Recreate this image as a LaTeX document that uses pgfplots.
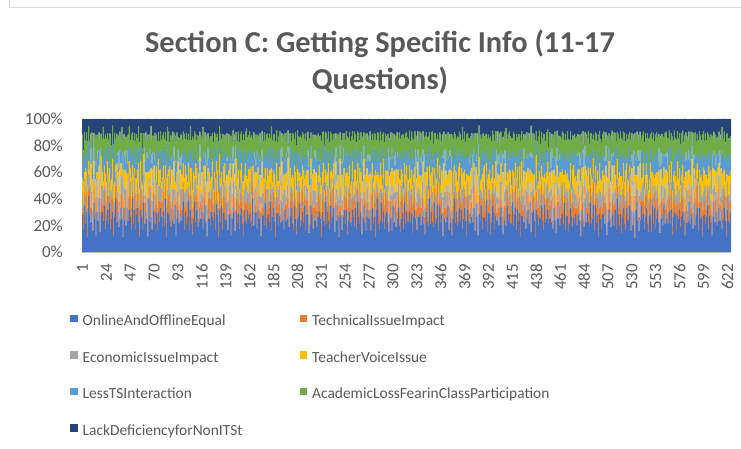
\documentclass[border=0pt]{standalone}
\usepackage{pgfplots}
\usepackage{pgfplotstable}
\pgfplotsset{compat=1.18}
\usepackage{fontspec}
\setmainfont{Carlito}
\definecolor{tgray}{HTML}{595959}
\definecolor{cA}{HTML}{4472C4}
\definecolor{cB}{HTML}{ED7D31}
\definecolor{cC}{HTML}{A5A5A5}
\definecolor{cD}{HTML}{FFC000}
\definecolor{cE}{HTML}{5B9BD5}
\definecolor{cF}{HTML}{70AD47}
\definecolor{cG}{HTML}{264478}
\pgfplotstableread{
a d b f c e g
5 2 1 3 2 3 2
3 3 2 2 1 2 4
7 1 2 4 2 2 2
4 4 1 2 3 2 3
6 2 3 3 1 3 2
2 3 2 4 2 2 3
8 2 1 2 2 3 1
5 1 3 3 2 1 3
4 3 2 2 3 2 2
6 2 2 4 1 3 2
3 4 1 3 2 2 4
7 2 2 2 2 2 2
5 3 2 3 1 3 3
2 2 3 4 2 2 2
6 1 2 3 3 2 3
4 3 1 2 2 3 2
8 2 2 3 1 2 2
3 2 3 4 2 3 3
5 4 2 2 2 1 2
6 2 1 3 3 2 3
4 1 2 4 2 3 1
7 3 2 2 1 2 3
3 2 3 3 2 2 2
5 3 1 4 2 3 3
6 2 2 2 3 2 2
4 3 2 3 2 2 3
7 2 1 2 2 3 2
3 1 2 4 3 2 2
5 2 3 3 1 2 4
6 4 2 2 2 3 1
2 2 2 3 2 2 3
5 3 1 4 1 3 2
8 1 2 2 2 2 3
4 2 3 3 3 1 2
6 3 2 2 1 3 3
3 2 1 4 2 2 2
5 4 2 3 2 3 2
7 2 2 2 3 2 3
4 1 3 3 2 2 1
2 3 2 4 1 3 3
6 2 1 3 2 2 2
5 3 2 2 3 3 3
3 2 2 3 2 1 2
7 1 3 4 1 2 3
4 3 1 2 2 3 2
6 2 2 3 3 2 1
5 2 3 2 2 2 3
3 4 2 3 1 3 2
8 2 1 3 2 2 2
4 3 2 4 2 1 3
6 1 2 2 3 3 2
3 2 3 3 2 2 3
5 3 1 4 1 2 2
7 2 2 2 2 3 3
4 4 2 3 2 2 1
2 2 1 3 3 3 3
6 3 3 2 1 2 2
5 1 2 4 2 3 2
3 2 2 3 2 2 4
7 3 1 2 3 1 2
4 2 3 3 1 3 3
6 2 2 4 2 2 2
5 4 1 2 2 3 3
2 3 2 3 3 2 2
8 1 2 3 1 2 3
4 2 3 2 2 3 2
5 3 2 4 2 2 1
3 2 1 3 3 3 3
6 1 2 2 1 2 2
7 3 3 3 2 2 3
4 2 2 4 2 3 2
5 2 1 2 3 2 2
3 3 2 3 1 3 3
6 4 2 3 2 1 2
4 2 3 2 2 2 3
7 2 1 3 3 3 2
5 1 2 4 2 2 3
3 3 2 2 1 3 2
6 2 3 3 2 2 2
4 3 1 4 3 2 3
8 2 2 2 1 3 2
2 4 2 3 2 2 3
5 2 1 3 2 3 1
6 1 3 4 3 2 2
4 3 2 2 2 1 3
3 2 2 3 1 3 2
7 3 1 3 2 2 3
5 2 3 4 2 3 2
4 4 2 2 3 2 2
6 1 1 3 1 2 3
2 2 2 3 2 3 2
5 3 2 4 2 2 2
7 2 3 2 3 2 3
3 1 1 3 1 3 2
6 3 2 3 2 2 3
4 2 2 4 2 1 2
5 2 1 2 3 3 3
8 3 2 3 1 2 2
3 2 3 3 2 3 2
6 4 1 2 2 2 3
4 2 2 4 3 2 2
5 1 2 3 2 3 3
7 3 1 2 1 2 2
3 2 3 3 2 3 3
6 2 2 4 2 2 1
4 4 1 2 3 2 3
2 2 2 3 1 3 2
5 3 2 3 2 2 3
8 1 1 4 2 3 2
4 2 3 2 3 2 2
6 3 2 3 1 1 3
3 2 1 3 2 3 2
5 4 2 4 2 2 3
7 2 3 2 3 2 2
4 1 2 3 1 3 2
6 3 1 3 2 2 3
3 2 2 4 2 3 1
5 2 3 2 3 2 3
7 3 2 3 1 2 2
4 2 1 3 2 3 3
2 3 2 4 2 2 2
6 1 2 2 3 3 2
5 3 3 3 1 2 3
3 2 1 3 2 2 2
7 2 2 4 2 3 3
5 3 2 2 3 2 2
4 2 1 3 1 3 3
6 1 3 4 2 2 2
3 3 2 3 2 3 2
8 2 2 2 3 2 3
5 4 1 3 1 2 2
2 2 2 4 2 3 3
6 3 3 2 2 2 1
4 1 2 3 3 3 2
7 2 1 3 2 2 3
3 3 2 4 1 3 2
5 2 2 2 2 2 2
6 4 3 3 3 2 3
4 2 1 3 2 3 2
7 1 2 4 1 2 2
3 3 2 2 2 3 3
5 2 1 3 3 2 2
6 3 3 3 2 1 3
2 2 2 4 1 3 2
4 2 1 2 2 2 3
8 3 2 3 3 3 2
5 1 2 3 2 2 2
3 2 3 4 1 3 3
6 4 2 2 2 2 2
4 2 1 3 3 2 3
6 3 2 3 2 3 2
3 2 2 4 1 2 3
5 1 3 2 2 3 2
7 3 1 3 3 2 2
4 2 2 3 2 3 3
2 4 2 4 1 2 2
6 2 1 2 2 3 3
5 3 3 3 3 2 2
3 1 2 3 2 2 1
7 2 2 4 1 3 3
4 3 1 2 2 2 2
6 2 2 3 3 3 2
5 4 3 3 2 2 3
3 2 1 4 1 3 2
8 1 2 2 2 2 3
4 3 2 3 3 3 2
5 2 1 3 2 2 2
6 2 3 4 1 1 3
3 3 2 2 2 3 2
7 2 2 3 3 2 3
4 1 1 3 2 3 2
5 3 2 4 1 2 2
2 2 3 2 2 3 3
6 4 2 3 3 2 2
5 2 1 3 2 2 3
4 3 2 4 2 3 2
7 2 2 2 1 2 3
3 1 3 3 2 3 2
5 3 1 3 3 2 2
6 2 2 4 2 2 3
4 4 2 2 1 3 2
8 2 1 3 2 2 3
3 3 3 3 3 3 1
5 1 2 4 2 2 3
6 2 2 2 1 3 2
4 3 1 3 2 2 2
2 2 2 3 3 3 3
7 4 3 4 2 2 2
5 2 1 2 1 3 3
3 1 2 3 2 2 2
6 3 2 3 3 3 2
4 2 1 4 2 2 3
7 2 3 2 1 2 2
5 3 2 3 2 3 3
3 2 2 3 3 2 2
6 1 1 4 2 3 2
4 3 2 2 1 2 3
5 2 3 3 2 3 2
8 4 2 3 3 2 2
3 2 1 4 2 1 3
5 3 2 2 2 3 2
6 1 2 3 1 2 3
4 2 3 3 2 3 2
3 3 1 4 3 2 2
7 2 2 2 2 2 3
5 4 2 3 1 3 2
2 2 1 3 2 2 3
6 3 3 4 3 3 2
4 1 2 2 2 2 2
8 2 2 3 1 3 3
3 3 1 3 2 2 2
5 2 2 4 3 2 3
6 2 3 2 2 3 2
4 4 2 3 1 2 2
7 1 1 3 2 3 3
3 3 2 4 3 2 2
5 2 2 2 2 2 3
6 3 3 3 1 3 2
2 2 1 3 2 2 2
4 1 2 4 3 3 3
7 3 2 2 2 2 2
5 2 1 3 1 3 3
3 2 3 3 2 2 2
6 4 2 4 3 2 3
4 2 2 2 2 3 2
6 3 1 3 2 2 3
3 2 2 3 1 3 2
5 1 3 4 2 2 2
7 3 2 2 3 3 3
4 2 1 3 2 2 2
2 4 2 3 1 3 3
6 2 2 4 2 2 2
5 3 3 2 3 3 2
3 1 1 3 2 2 3
8 2 2 3 1 3 2
4 3 2 4 2 2 2
6 2 1 2 3 3 3
5 4 3 3 2 2 2
3 2 2 3 1 3 3
7 1 2 4 2 2 2
4 3 1 2 3 3 2
5 2 2 3 2 2 3
6 2 3 3 1 1 2
3 3 2 4 2 3 3
7 2 1 2 3 2 2
4 1 2 3 2 3 2
5 3 2 3 1 2 3
2 2 3 4 2 3 2
6 4 1 2 3 2 2
5 2 2 3 2 2 3
3 2 2 3 2 3 3
5 3 1 4 2 2 2
6 1 2 2 3 3 2
4 3 3 3 1 2 3
7 2 2 4 2 3 2
2 4 1 2 2 2 2
5 2 2 3 3 3 3
6 3 3 3 1 2 2
4 1 2 4 2 2 3
3 2 1 2 2 3 2
7 3 2 3 3 2 2
5 2 2 3 1 3 3
4 4 3 4 2 2 2
6 2 1 2 2 3 2
3 1 2 3 3 2 3
8 3 2 3 1 2 2
5 2 1 4 2 3 2
4 2 3 2 3 2 3
6 3 2 3 1 3 2
2 2 2 3 2 2 2
5 1 1 4 3 3 3
7 3 2 2 2 2 2
4 2 3 3 1 3 2
3 4 2 3 2 2 3
6 2 1 4 3 1 2
5 2 2 2 2 3 3
4 3 1 3 1 2 2
7 1 3 4 2 3 2
3 3 2 3 3 2 3
6 2 2 2 2 2 2
4 4 1 3 1 3 3
5 2 2 4 2 2 2
2 3 3 2 3 3 2
6 1 2 3 2 2 3
8 2 1 3 1 3 2
4 3 2 4 2 2 2
3 2 2 2 3 3 3
5 4 3 3 2 2 2
7 2 1 3 1 2 3
4 1 2 4 2 3 2
6 3 2 2 3 2 2
3 2 1 3 2 3 3
5 2 3 3 1 2 2
7 3 2 4 2 2 3
4 2 2 2 3 3 2
2 1 1 3 2 2 2
6 3 2 3 1 3 3
5 2 3 4 2 2 2
3 4 2 2 3 3 2
7 2 1 3 2 2 3
4 3 2 3 2 2 2
6 1 2 4 1 3 3
3 2 3 2 2 2 2
5 3 1 3 3 3 2
7 2 2 3 2 2 3
4 4 2 4 1 3 2
2 2 1 2 2 2 2
6 3 3 3 3 3 3
5 1 2 3 2 2 2
3 2 2 4 1 3 2
8 3 1 2 2 2 3
4 2 2 3 3 3 2
6 2 3 3 2 2 2
5 4 2 4 1 3 3
3 1 1 2 2 2 2
7 3 2 3 3 3 2
4 2 2 3 2 2 3
6 3 3 4 1 2 2
2 2 1 2 2 3 2
5 1 2 3 3 2 3
7 3 2 3 2 3 2
4 2 1 4 1 2 2
3 2 3 2 2 3 3
6 4 2 3 3 2 2
5 2 2 3 2 2 3
6 3 1 4 2 3 2
3 2 2 2 1 2 3
5 1 3 3 2 3 2
7 3 2 3 3 2 2
4 2 1 4 2 3 3
2 4 2 2 1 2 2
6 2 2 3 2 3 2
5 3 3 3 3 2 3
3 1 1 4 2 2 2
8 2 2 2 1 3 2
4 3 2 3 2 2 3
6 2 1 3 3 3 2
5 4 3 4 2 2 2
3 2 2 2 1 3 3
7 1 2 3 2 2 2
4 3 1 3 3 3 2
5 2 2 4 2 2 3
6 2 3 2 1 1 2
3 3 2 3 2 3 3
7 2 1 3 3 2 2
4 1 2 4 2 3 2
5 3 2 2 1 2 3
2 2 3 3 2 3 2
6 4 1 3 3 2 2
5 2 2 4 2 2 3
4 2 2 2 3 3 2
5 3 1 3 2 2 3
7 1 2 4 1 3 2
3 3 3 3 2 2 2
6 2 2 2 3 3 3
4 4 1 3 2 2 2
2 2 2 4 1 3 2
5 3 2 3 2 2 3
8 1 1 2 3 3 2
4 2 3 3 2 2 2
6 3 2 4 1 1 3
3 2 1 2 2 3 2
5 4 2 3 3 2 3
7 2 3 3 2 2 2
4 1 2 4 1 3 2
6 3 1 2 2 2 3
3 2 2 3 3 3 1
5 2 3 3 2 2 3
7 3 2 4 1 2 2
4 2 1 2 2 3 3
2 3 2 3 3 2 2
6 1 2 3 2 3 2
5 3 3 4 1 2 3
3 2 1 2 2 2 2
7 2 2 3 3 3 3
5 3 2 3 2 2 2
4 2 1 4 1 3 3
6 1 3 2 2 2 2
3 3 2 3 3 3 2
8 2 2 3 2 2 3
5 4 1 4 1 2 2
2 2 2 2 2 3 3
6 3 3 3 3 2 1
4 1 2 3 2 3 2
7 2 1 4 1 2 3
3 3 2 2 2 3 2
5 2 2 3 3 2 2
6 4 3 3 2 2 3
4 2 1 4 1 3 2
7 1 2 2 2 2 2
3 3 2 3 3 3 3
5 2 1 3 2 2 2
6 3 3 4 1 1 3
2 2 2 2 2 3 2
4 2 1 3 3 2 3
8 3 2 3 2 3 2
5 1 2 4 1 2 2
3 2 3 2 2 3 3
6 4 2 3 3 2 2
4 2 1 3 2 2 3
6 3 2 4 2 3 2
3 2 2 2 1 2 3
5 1 3 3 2 3 2
7 3 1 3 3 2 2
4 2 2 4 2 3 3
2 4 2 2 1 2 2
6 2 1 3 2 3 3
5 3 3 3 3 2 2
3 1 2 4 2 2 1
7 2 2 2 1 3 3
4 3 1 3 2 2 2
6 2 2 3 3 3 2
5 4 3 4 2 2 3
3 2 1 2 1 3 2
8 1 2 3 2 2 3
4 3 2 3 3 3 2
5 2 1 4 2 2 2
6 2 3 2 1 1 3
3 3 2 3 2 3 2
7 2 2 3 3 2 3
4 1 1 4 2 3 2
5 3 2 2 1 2 2
2 2 3 3 2 3 3
6 4 2 3 3 2 2
5 2 1 4 2 2 3
4 3 2 2 2 3 2
7 2 2 3 1 2 3
3 1 3 3 2 3 2
5 3 1 4 3 2 2
6 2 2 2 2 2 3
4 4 2 3 1 3 2
8 2 1 3 2 2 3
3 3 3 4 3 3 1
5 1 2 2 2 2 3
6 2 2 3 1 3 2
4 3 1 3 2 2 2
2 2 2 4 3 3 3
7 4 3 2 2 2 2
5 2 1 3 1 3 3
3 1 2 3 2 2 2
6 3 2 4 3 3 2
4 2 1 2 2 2 3
7 2 3 3 1 2 2
5 3 2 3 2 3 3
3 2 2 4 3 2 2
6 1 1 2 2 3 2
4 3 2 3 1 2 3
5 2 3 3 2 3 2
8 4 2 4 3 2 2
3 2 1 2 2 1 3
5 3 2 3 2 3 2
6 1 2 4 1 2 3
4 2 3 2 2 3 2
3 3 1 3 3 2 2
7 2 2 3 2 2 3
5 4 2 4 1 3 2
2 2 1 2 2 2 3
6 3 3 3 3 3 2
4 1 2 3 2 2 2
8 2 2 4 1 3 3
3 3 1 2 2 2 2
5 2 2 3 3 2 3
6 2 3 3 2 3 2
4 4 2 4 1 2 2
7 1 1 2 2 3 3
3 3 2 3 3 2 2
5 2 2 3 2 2 3
6 3 3 4 1 3 2
2 2 1 2 2 2 2
4 1 2 3 3 3 3
7 3 2 3 2 2 2
5 2 1 4 1 3 3
3 2 3 2 2 2 2
6 4 2 3 3 2 3
4 2 2 3 2 3 2
6 3 1 4 2 2 3
3 2 2 2 1 3 2
5 1 3 3 2 2 2
7 3 2 3 3 3 3
4 2 1 4 2 2 2
2 4 2 2 1 3 3
6 2 2 3 2 2 2
5 3 3 3 3 3 2
3 1 1 4 2 2 3
8 2 2 2 1 3 2
4 3 2 3 2 2 2
6 2 1 3 3 3 3
5 4 3 4 2 2 2
3 2 2 2 1 3 3
7 1 2 3 2 2 2
4 3 1 3 3 3 2
5 2 2 4 2 2 3
6 2 3 2 1 1 2
3 3 2 3 2 3 3
7 2 1 3 3 2 2
4 1 2 4 2 3 2
5 3 2 2 1 2 3
2 2 3 3 2 3 2
6 4 1 3 3 2 2
5 2 2 4 2 2 3
3 2 2 2 2 3 3
5 3 1 3 2 2 2
6 1 2 4 3 3 2
4 3 3 3 1 2 3
7 2 2 2 2 3 2
2 4 1 3 2 2 2
5 2 2 4 3 3 3
6 3 3 2 1 2 2
4 1 2 3 2 2 3
3 2 1 3 2 3 2
7 3 2 4 3 2 2
5 2 2 2 1 3 3
4 4 3 3 2 2 2
6 2 1 3 2 3 2
3 1 2 4 3 2 3
8 3 2 2 1 2 2
5 2 1 3 2 3 2
4 2 3 3 3 2 3
6 3 2 4 1 3 2
2 2 2 2 2 2 2
5 1 1 3 3 3 3
7 3 2 3 2 2 2
4 2 3 4 1 3 2
3 4 2 2 2 2 3
6 2 1 3 3 1 2
5 2 2 3 2 3 3
4 3 1 4 1 2 2
7 1 3 2 2 3 2
3 3 2 3 3 2 3
6 2 2 3 2 2 2
4 4 1 4 1 3 3
5 2 2 2 2 2 2
2 3 3 3 3 3 2
6 1 2 3 2 2 3
8 2 1 4 1 3 2
4 3 2 2 2 2 2
3 2 2 3 3 3 3
5 4 3 3 2 2 2
7 2 1 4 1 2 3
4 1 2 2 2 3 2
6 3 2 3 3 2 2
3 2 1 3 2 3 3
5 2 3 4 1 2 2
7 3 2 2 2 2 3
4 2 2 3 3 3 2
2 1 1 3 2 2 2
6 3 2 4 1 3 3
5 2 3 2 2 2 2
3 4 2 3 3 3 2
7 2 1 3 2 2 3
4 3 2 4 2 2 2
6 1 2 2 1 3 3
3 2 3 3 2 2 2
5 3 1 3 3 3 2
7 2 2 4 2 2 3
4 4 2 2 1 3 2
2 2 1 3 2 2 2
6 3 3 3 3 3 3
5 1 2 4 2 2 2
3 2 2 2 1 3 2
8 3 1 3 2 2 3
4 2 2 3 3 3 2
6 2 3 4 2 2 2
5 4 2 2 1 3 3
3 1 1 3 2 2 2
7 3 2 3 3 3 2
4 2 2 4 2 2 3
6 3 3 2 1 2 2
2 2 1 3 2 3 2
5 1 2 3 3 2 3
7 3 2 4 2 3 2
4 2 1 2 1 2 2
3 2 3 3 2 3 3
6 4 2 3 3 2 2
5 2 2 4 2 2 3
6 3 1 2 2 3 2
3 2 2 3 1 2 3
5 1 3 3 2 3 2
7 3 2 4 3 2 2
4 2 1 2 2 3 3
2 4 2 3 1 2 2
6 2 2 3 2 3 2
5 3 3 4 3 2 3
3 1 1 2 2 2 2
8 2 2 3 1 3 2
4 3 2 3 2 2 3
6 2 1 4 3 3 2
5 4 3 2 2 2 2
3 2 2 3 1 3 3
7 1 2 3 2 2 2
4 3 1 4 3 3 2
5 2 2 2 2 2 3
6 2 3 3 1 1 2
3 3 2 3 2 3 3
7 2 1 4 3 2 2
4 1 2 2 2 3 2
5 3 2 3 1 2 3
2 2 3 3 2 3 2
6 4 1 4 3 2 2
5 2 2 2 2 2 3
4 2 2 3 3 3 2
5 3 1 3 2 2 3
7 1 2 4 1 3 2
3 3 3 2 2 2 2
6 2 2 3 3 3 3
4 4 1 3 2 2 2
2 2 2 4 1 3 2
5 3 2 2 2 2 3
8 1 1 3 3 3 2
4 2 3 3 2 2 2
6 3 2 4 1 1 3
3 2 1 2 2 3 2
5 4 2 3 3 2 3
7 2 3 3 2 2 2
4 1 2 4 1 3 2
6 3 1 2 2 2 3
3 2 2 3 3 3 1
5 2 3 3 2 2 3
7 3 2 4 1 2 2
4 2 1 2 2 3 3
2 3 2 3 3 2 2
6 1 2 3 2 3 2
5 3 3 4 1 2 3
3 2 1 2 2 2 2
7 2 2 3 3 3 3
}\data
\pgfplotstablecreatecol[expr={\thisrow{a}+\thisrow{b}+\thisrow{c}+\thisrow{d}+\thisrow{e}+\thisrow{f}+\thisrow{g}}]{s}{\data}
\begin{document}
\begin{tikzpicture}
\useasboundingbox (0bp,0bp) rectangle (741bp,449bp);
\draw[black!15, line width=1bp] (9bp,449bp) -- (9bp,441bp) -- (741bp,441bp);
\node[font=\fontsize{30.5}{36}\selectfont\bfseries, text=tgray] at (380bp,405bp) {Section C: Getting Specific Info (11-17};
\node[font=\fontsize{30.5}{36}\selectfont\bfseries, text=tgray] at (380bp,368bp) {Questions)};
\begin{axis}[
  at={(82bp,197bp)}, anchor=south west,
  scale only axis, width=649bp, height=133bp,
  ybar stacked, bar width=1.1,
  xmin=0.5, xmax=625.5, ymin=0, ymax=100,
  axis x line=bottom, axis y line=left,
  x axis line style={draw=black!25, -},
  y axis line style={draw=none},
  major tick length=0pt,
  xtick={1,24,47,70,93,116,139,162,185,208,231,254,277,300,323,346,369,392,415,438,461,484,507,530,553,576,599,622},
  xticklabels={1,24,47,70,93,116,139,162,185,208,231,254,277,300,323,346,369,392,415,438,461,484,507,530,553,576,599,622},
  ytick={0,20,40,60,80,100},
  yticklabels={0\%,20\%,40\%,60\%,80\%,100\%},
  ticklabel style={font=\fontsize{17}{20}\selectfont, text=tgray},
  yticklabel style={anchor=east, inner sep=0pt, xshift=-19bp},
  xticklabel style={yshift=-12bp, rotate=90, anchor=east, inner sep=0pt},
  legend columns=2,
  legend style={at={(axis description cs:-0.0185,-0.472)}, anchor=north west,
    draw=none, fill=none, inner sep=0pt, column sep=5bp, row sep=21.5bp,
    font=\fontsize{15.5}{18}\selectfont, text=tgray,
    nodes={inner sep=0pt, text height=11bp, text depth=4bp},
    /tikz/every even column/.append style={text width=212bp},
    cells={anchor=west}},
  legend cell align=left,
  sq/.style={legend image code/.code={\fill[##1] (0bp,0bp) rectangle (7.5bp,7.5bp);}},
]
\addplot[fill=cA, draw=none, sq] table[x expr=\coordindex+1, y expr=100*\thisrow{a}/\thisrow{s}] {\data};
\addplot[fill=cB, draw=none, sq] table[x expr=\coordindex+1, y expr=100*\thisrow{b}/\thisrow{s}] {\data};
\addplot[fill=cC, draw=none, sq] table[x expr=\coordindex+1, y expr=100*\thisrow{c}/\thisrow{s}] {\data};
\addplot[fill=cD, draw=none, sq] table[x expr=\coordindex+1, y expr=100*\thisrow{d}/\thisrow{s}] {\data};
\addplot[fill=cE, draw=none, sq] table[x expr=\coordindex+1, y expr=100*\thisrow{e}/\thisrow{s}] {\data};
\addplot[fill=cF, draw=none, sq] table[x expr=\coordindex+1, y expr=100*\thisrow{f}/\thisrow{s}] {\data};
\addplot[fill=cG, draw=none, sq] table[x expr=\coordindex+1, y expr=100*\thisrow{g}/\thisrow{s}] {\data};
\legend{OnlineAndOfflineEqual,TechnicalIssueImpact,EconomicIssueImpact,TeacherVoiceIssue,LessTSInteraction,AcademicLossFearinClassParticipation,LackDeficiencyforNonITSt}
\end{axis}
\end{tikzpicture}
\end{document}
